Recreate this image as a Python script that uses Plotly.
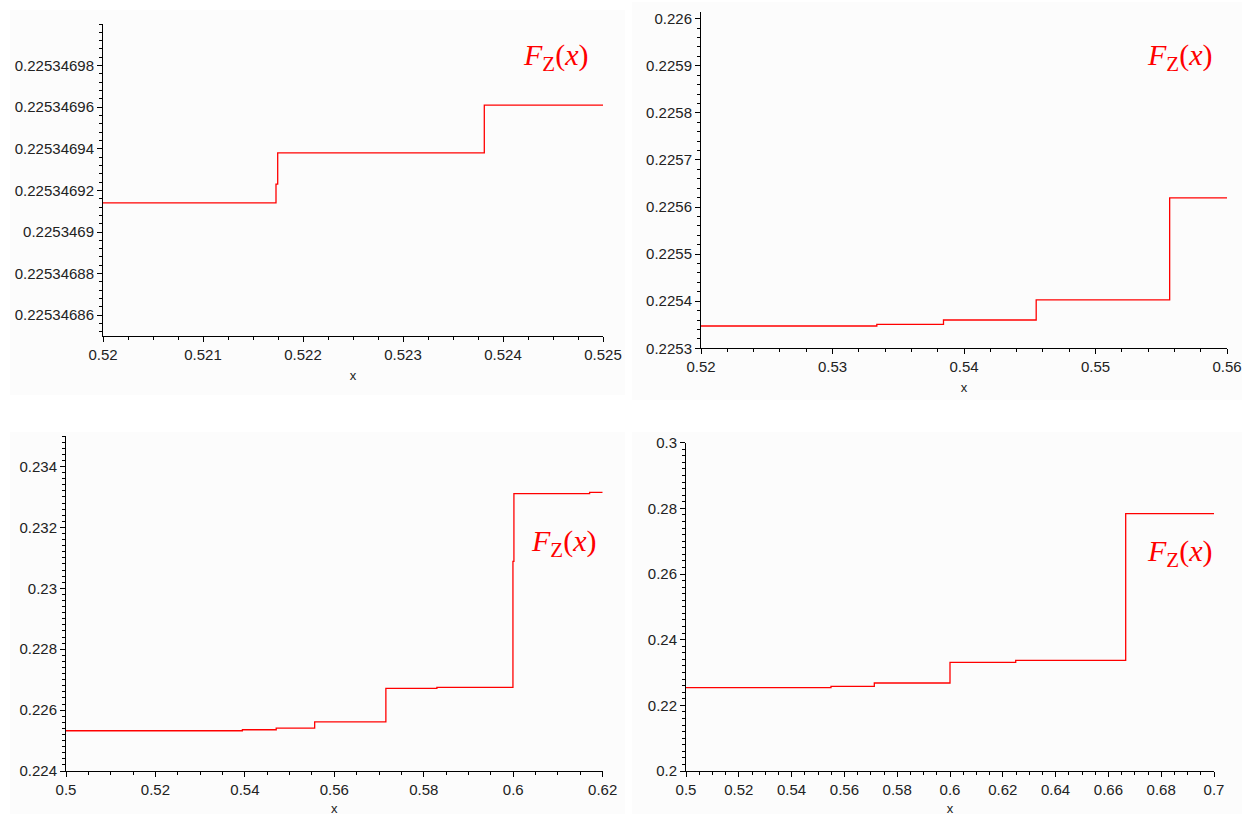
import plotly.graph_objects as go

W, H = 1244, 816

# ---- data (step functions F_Z(x)) ----
p1_x = [0.52, 0.52173, 0.521747, 0.523813, 0.525]
p1_y = [0.225346914, 0.225346923, 0.225346938, 0.225346961, 0.225346961]

p2_x = [0.52, 0.53337, 0.53844, 0.54549, 0.55564, 0.56]
p2_y = [0.2253474, 0.225351, 0.2253601, 0.2254027, 0.2256194, 0.2256194]

p3_x = [0.5, 0.53944, 0.547, 0.5556, 0.57152, 0.58293, 0.59993, 0.60015, 0.61707, 0.62]
p3_y = [0.225321, 0.225354, 0.225410, 0.225616, 0.226711, 0.226744, 0.230885, 0.233105, 0.233148, 0.233148]

p4_x = [0.5, 0.55492, 0.57133, 0.6, 0.62489, 0.66655, 0.7]
p4_y = [0.22537, 0.22580, 0.22680, 0.23311, 0.23372, 0.27837, 0.27837]

# ---- tick labels ----
p1_xticks = [0.52, 0.521, 0.522, 0.523, 0.524, 0.525]
p1_xtext = ["0.52", "0.521", "0.522", "0.523", "0.524", "0.525"]
p1_yticks = [0.22534686, 0.22534688, 0.22534690, 0.22534692, 0.22534694, 0.22534696, 0.22534698]
p1_ytext = ["0.22534686", "0.22534688", "0.2253469", "0.22534692", "0.22534694", "0.22534696", "0.22534698"]

p2_xticks = [0.52, 0.53, 0.54, 0.55, 0.56]
p2_xtext = ["0.52", "0.53", "0.54", "0.55", "0.56"]
p2_yticks = [0.2253, 0.2254, 0.2255, 0.2256, 0.2257, 0.2258, 0.2259, 0.226]
p2_ytext = ["0.2253", "0.2254", "0.2255", "0.2256", "0.2257", "0.2258", "0.2259", "0.226"]

p3_xticks = [0.5, 0.52, 0.54, 0.56, 0.58, 0.6, 0.62]
p3_xtext = ["0.5", "0.52", "0.54", "0.56", "0.58", "0.6", "0.62"]
p3_yticks = [0.224, 0.226, 0.228, 0.23, 0.232, 0.234]
p3_ytext = ["0.224", "0.226", "0.228", "0.23", "0.232", "0.234"]

p4_xticks = [0.5, 0.52, 0.54, 0.56, 0.58, 0.6, 0.62, 0.64, 0.66, 0.68, 0.7]
p4_xtext = ["0.5", "0.52", "0.54", "0.56", "0.58", "0.6", "0.62", "0.64", "0.66", "0.68", "0.7"]
p4_yticks = [0.2, 0.22, 0.24, 0.26, 0.28, 0.3]
p4_ytext = ["0.2", "0.22", "0.24", "0.26", "0.28", "0.3"]

RED = "#ff0000"
LABEL = "<i>F</i><sub>Z</sub>(<i>x</i>)"

# panel geometry in pixels: (left, right, top, bottom)
geo = [
    (103, 603, 24, 336),
    (701, 1227, 12.3, 348.3),
    (66, 602.7, 436, 771),
    (686, 1214, 442.7, 771),
]
xranges = [[0.52, 0.525], [0.52, 0.56], [0.5, 0.62], [0.5, 0.7]]
yranges = [[0.22534685, 0.225347], [0.2253, 0.2260135], [0.224, 0.235], [0.2, 0.3]]
xminor = [(0.52, 0.00025), (0.52, 0.002), (0.5, 0.005), (0.5, 0.005)]
yminor = [(0.22534686, 0.000000004), (0.2253, 0.00002), (0.224, 0.0002), (0.2, 0.002)]
xt = [(p1_xticks, p1_xtext), (p2_xticks, p2_xtext), (p3_xticks, p3_xtext), (p4_xticks, p4_xtext)]
yt = [(p1_yticks, p1_ytext), (p2_yticks, p2_ytext), (p3_yticks, p3_ytext), (p4_yticks, p4_ytext)]
series = [(p1_x, p1_y), (p2_x, p2_y), (p3_x, p3_y), (p4_x, p4_y)]
label_pos = [(555, 57), (1179, 57), (563, 543), (1179, 553)]

fig = go.Figure()
layout = dict(
    width=W, height=H,
    margin=dict(l=0, r=0, t=0, b=0, autoexpand=False),
    paper_bgcolor="white",
    plot_bgcolor="rgba(0,0,0,0)",
    showlegend=False,
    font=dict(family="Liberation Sans, Arial, sans-serif", size=15, color="#222"),
    shapes=[], annotations=[],
)

for i in range(4):
    n = "" if i == 0 else str(i + 1)
    l, r, t, b = geo[i]
    xs, ys = series[i]
    fig.add_trace(go.Scatter(
        x=xs, y=ys, mode="lines", line=dict(color=RED, width=1.3, shape="hv"),
        xaxis="x" + n, yaxis="y" + n, hoverinfo="skip", cliponaxis=False,
    ))
    axcommon = dict(
        showline=True, linecolor="#000", linewidth=1, showgrid=False, zeroline=False,
        ticks="outside", ticklen=5, tickcolor="#000", tickwidth=1, automargin=False,
        tickfont=dict(family="Liberation Sans, Arial, sans-serif", size=15, color="#222"),
        tickmode="array",
    )
    layout["xaxis" + n] = dict(
        axcommon, domain=[l / W, r / W], range=xranges[i],
        anchor="y" + n, tickvals=xt[i][0], ticktext=xt[i][1],
        minor=dict(ticks="outside", ticklen=3, tickcolor="#000", tick0=xminor[i][0], dtick=xminor[i][1], showgrid=False),
        title=dict(text="x", font=dict(family="Liberation Sans, Arial, sans-serif", size=13, color="#222"), standoff=8),
    )
    layout["yaxis" + n] = dict(
        axcommon, domain=[1 - b / H, 1 - t / H], range=yranges[i],
        anchor="x" + n, tickvals=yt[i][0], ticktext=yt[i][1],
        minor=dict(ticks="outside", ticklen=3, tickcolor="#000", tick0=yminor[i][0], dtick=yminor[i][1], showgrid=False),
    )
    lx, ly = label_pos[i]
    layout["annotations"].append(dict(
        text=LABEL, xref="paper", yref="paper", x=lx / W, y=1 - ly / H,
        xanchor="center", yanchor="middle", showarrow=False,
        font=dict(family="Liberation Serif, Times New Roman, serif", size=30, color=RED),
    ))

# faint panel backgrounds
for (x0, y0, x1, y1) in [(10, 10, 625, 395), (632, 2, 1242, 400), (10, 432, 625, 814), (632, 432, 1242, 814)]:
    layout["shapes"].append(dict(
        type="rect", xref="paper", yref="paper", layer="below",
        x0=x0 / W, x1=x1 / W, y0=1 - y1 / H, y1=1 - y0 / H,
        fillcolor="#fcfcfc", line=dict(width=0),
    ))

fig.update_layout(**layout)
fig.write_html("out.html")
